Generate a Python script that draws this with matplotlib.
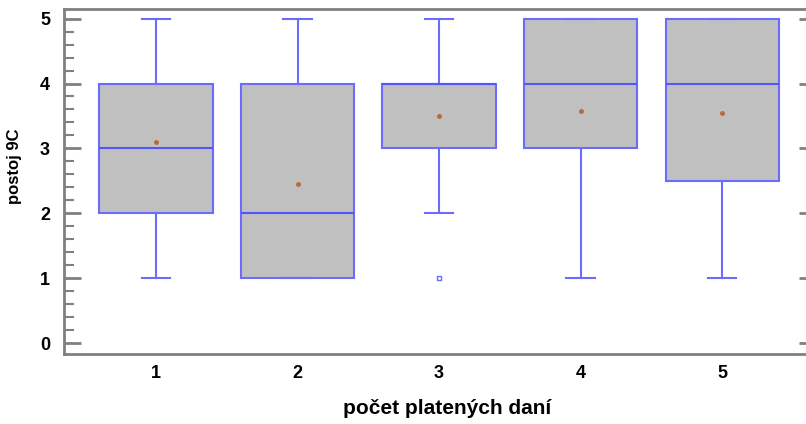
import matplotlib.pyplot as plt
from matplotlib.ticker import MultipleLocator

plt.rcParams['font.family'] = ['Liberation Sans', 'DejaVu Sans']

groups = ["1", "2", "3", "4", "5"]
mins = [1, 1, 2, 1, 1]
q1s = [2, 1, 3, 3, 2.5]
medians = [3, 2, 4, 4, 4]
q3s = [4, 4, 4, 5, 5]
maxs = [5, 5, 5, 5, 5]
means = [3.1, 2.45, 3.5, 3.57, 3.55]
outliers = [[], [], [1], [], []]

boxColor = "#6b6bff"
stats = []
for i, g in enumerate(groups):
    stats.append(dict(label=g, whislo=mins[i], q1=q1s[i], med=medians[i],
                      q3=q3s[i], whishi=maxs[i], mean=means[i], fliers=outliers[i]))

fig = plt.figure(figsize=(8.06, 4.24), dpi=100)
ax = fig.add_axes([0.0794, 0.165, 0.922, 0.814])

ax.bxp(stats, positions=range(1, 6), widths=0.8, patch_artist=True, showmeans=True,
       boxprops=dict(facecolor="#c0c0c0", edgecolor=boxColor, linewidth=1.5),
       medianprops=dict(color="#5555ff", linewidth=1.5),
       whiskerprops=dict(color=boxColor, linewidth=1.5),
       capprops=dict(color=boxColor, linewidth=1.5),
       capwidths=0.2,
       meanprops=dict(marker='o', markersize=2.5, markerfacecolor="#b86a3a", markeredgecolor="#b86a3a"),
       flierprops=dict(marker='s', markersize=3.5, markerfacecolor="white", markeredgecolor=boxColor))

ax.set_xlim(0.35, 5.6)
ax.set_ylim(-0.17, 5.15)
ax.yaxis.set_major_locator(MultipleLocator(1))
ax.yaxis.set_minor_locator(MultipleLocator(0.2))
ax.tick_params(axis='y', which='major', direction='in', length=12, width=2, color="#808080",
               labelsize=13, pad=10)
ax.tick_params(axis='y', which='minor', direction='in', length=7, width=1.5, color="#808080")
ax.tick_params(axis='x', length=0, labelsize=13, pad=8)
for lab in ax.get_xticklabels() + ax.get_yticklabels():
    lab.set_fontweight('bold')

for s in ['left', 'bottom', 'top']:
    ax.spines[s].set_color("#808080")
    ax.spines[s].set_linewidth(2)
ax.spines['right'].set_visible(False)

# short ticks on the right side
axr = ax.twinx()
axr.set_ylim(ax.get_ylim())
axr.yaxis.set_major_locator(MultipleLocator(1))
axr.tick_params(axis='y', direction='in', length=6, width=2, color="#808080", labelright=False)
for s in axr.spines.values():
    s.set_visible(False)

ax.set_ylabel("postoj 9C", fontsize=12, fontweight='bold')
ax.yaxis.set_label_coords(-0.056, 0.545)
ax.set_xlabel("počet platených daní", fontsize=15, fontweight='bold')
ax.xaxis.set_label_coords(0.515, -0.13)

plt.savefig("out.png", dpi=100)
